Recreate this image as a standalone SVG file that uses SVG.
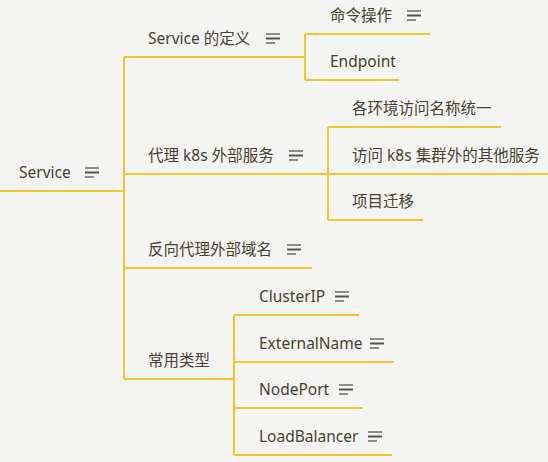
<svg xmlns="http://www.w3.org/2000/svg" width="548" height="462" viewBox="0 0 548 462">
<defs>
<style>
.t{font-family:"Noto Sans","Noto Sans CJK SC","Liberation Sans",sans-serif;font-size:15.5px;fill:#45412f;}
.u{stroke:#f2c52e;stroke-width:2;fill:none;}
.c{stroke:#f2c52e;stroke-width:2;fill:none;}
.i1{stroke:#8c8c84;stroke-width:2;}
.i2{stroke:#55554c;stroke-width:2;}
</style>
<g id="icon">
<line class="i1" x1="0" y1="-10" x2="14" y2="-10"/>
<line class="i2" x1="0" y1="-5.5" x2="14" y2="-5.5"/>
<line class="i1" x1="0" y1="-1" x2="9" y2="-1"/>
</g>
</defs>
<rect width="548" height="462" fill="#f4f4f2"/>
<g id="connectors">
<path class="c" d="M124 57 V379"/>
<path class="c" d="M305 34 V80"/>
<path class="c" d="M328 127 V220"/>
<path class="c" d="M234 315 V455"/>
</g>
<g id="root">
<text class="t" x="19" y="178">Service</text>
<use href="#icon" x="85" y="178"/>
<line class="u" x1="0" y1="191" x2="124" y2="191"/>
</g>
<g id="n-def">
<text class="t" x="148" y="44">Service 的定义</text>
<use href="#icon" x="266" y="44"/>
<line class="u" x1="124" y1="57" x2="305" y2="57"/>
</g>
<g id="n-cmd">
<text class="t" x="330" y="21">命令操作</text>
<use href="#icon" x="407" y="21"/>
<line class="u" x1="305" y1="34" x2="430" y2="34"/>
</g>
<g id="n-endpoint">
<text class="t" x="330" y="67">Endpoint</text>
<line class="u" x1="305" y1="80" x2="399" y2="80"/>
</g>
<g id="n-proxy">
<text class="t" x="148" y="161">代理 k8s 外部服务</text>
<use href="#icon" x="289" y="161"/>
<line class="u" x1="124" y1="174" x2="328" y2="174"/>
</g>
<g id="n-unify">
<text class="t" x="352" y="114">各环境访问名称统一</text>
<line class="u" x1="328" y1="127" x2="501" y2="127"/>
</g>
<g id="n-external">
<text class="t" x="352" y="161">访问 k8s 集群外的其他服务</text>
<line class="u" x1="328" y1="174" x2="548" y2="174"/>
</g>
<g id="n-migrate">
<text class="t" x="352" y="207">项目迁移</text>
<line class="u" x1="328" y1="220" x2="423" y2="220"/>
</g>
<g id="n-reverse">
<text class="t" x="148" y="255">反向代理外部域名</text>
<use href="#icon" x="287" y="255"/>
<line class="u" x1="124" y1="268" x2="312" y2="268"/>
</g>
<g id="n-types">
<text class="t" x="148" y="366">常用类型</text>
<line class="u" x1="124" y1="379" x2="234" y2="379"/>
</g>
<g id="n-clusterip">
<text class="t" x="259" y="302">ClusterIP</text>
<use href="#icon" x="335" y="302"/>
<line class="u" x1="234" y1="315" x2="359" y2="315"/>
</g>
<g id="n-externalname">
<text class="t" x="259" y="349">ExternalName</text>
<use href="#icon" x="370" y="349"/>
<line class="u" x1="234" y1="362" x2="394" y2="362"/>
</g>
<g id="n-nodeport">
<text class="t" x="259" y="395">NodePort</text>
<use href="#icon" x="339" y="395"/>
<line class="u" x1="234" y1="408" x2="363" y2="408"/>
</g>
<g id="n-lb">
<text class="t" x="259" y="442">LoadBalancer</text>
<use href="#icon" x="368" y="442"/>
<line class="u" x1="234" y1="455" x2="392" y2="455"/>
</g>
</svg>
